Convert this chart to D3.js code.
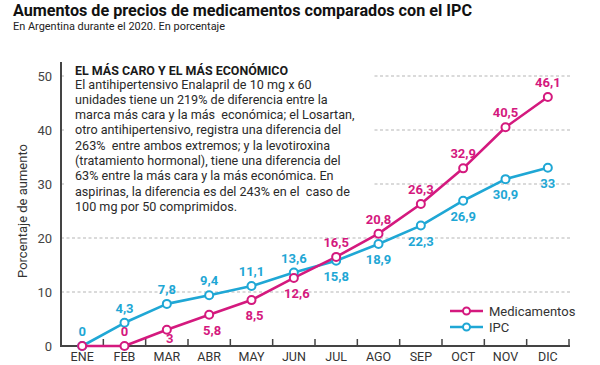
<!DOCTYPE html>
<html><head><meta charset="utf-8">
<script src="https://cdn.jsdelivr.net/npm/d3@7"></script>
<style>
body{margin:0;background:#fff;}
svg{display:block;}
text{font-family:Roboto,"Liberation Sans",sans-serif;}
</style></head>
<body><svg id="c" width="600" height="365"></svg>
<script>
const months = ["ENE","FEB","MAR","ABR","MAY","JUN","JUL","AGO","SEP","OCT","NOV","DIC"];
const medicamentos = [0,0,3,5.8,8.5,12.6,16.5,20.8,26.3,32.9,40.5,46.1];
const ipc = [0,4.3,7.8,9.4,11.1,13.6,15.8,18.9,22.3,26.9,30.9,33];
const yTicks = [0,10,20,30,40,50];
const seriesNames = ["Medicamentos","IPC"];
const title = "Aumentos de precios de medicamentos comparados con el IPC";
const subtitle = "En Argentina durante el 2020. En porcentaje";
const yTitle = "Porcentaje de aumento";
const noteTitle = "EL MÁS CARO Y EL MÁS ECONÓMICO";
const noteLines = [
 "El antihipertensivo Enalapril de 10 mg x 60",
 "unidades tiene un 219% de diferencia entre la",
 "marca más cara y la más  económica; el Losartan,",
 "otro antihipertensivo, registra una diferencia del",
 "263%  entre ambos extremos; y la levotiroxina",
 "(tratamiento hormonal), tiene una diferencia del",
 "63% entre la más cara y la más económica. En",
 "aspirinas, la diferencia es del 243% en el  caso de",
 "100 mg por 50 comprimidos."
];

const MAG = "#d4197e", CYAN = "#1fa7d5";
const fmt = v => String(v).replace(".", ",");
const svg = d3.select("#c");

const x = d3.scaleBand().domain(months).range([61, 569]);
const y = d3.scaleLinear().domain([0, 50]).range([346, 76]);

// title
svg.append("text").attr("x", 13).attr("y", 16).attr("font-size", 17).attr("font-weight", 700).attr("fill", "#111").text(title)
  .attr("textLength", 459).attr("lengthAdjust", "spacingAndGlyphs");
svg.append("text").attr("x", 13).attr("y", 30).attr("font-size", 11.5).attr("fill", "#222").text(subtitle)
  .attr("textLength", 212).attr("lengthAdjust", "spacingAndGlyphs");

// gridlines
svg.append("g").selectAll("line").data(yTicks.filter(d => d > 0)).join("line")
  .attr("x1", 61).attr("x2", 570).attr("y1", d => y(d)).attr("y2", d => y(d))
  .attr("stroke", "#b5b5b5").attr("stroke-width", 1).attr("stroke-dasharray", "3,2.5");

// note box background
svg.append("rect").attr("x", 64).attr("y", 62).attr("width", 308).attr("height", 156).attr("fill", "#fff");

// y axis
const ya = svg.append("g").attr("transform", "translate(61,0)")
  .call(d3.axisLeft(y).tickValues(yTicks).tickSize(0).tickPadding(9));
ya.select(".domain").remove();
ya.selectAll("text").attr("font-size", 13).attr("fill", "#444").attr("font-family", "Roboto,sans-serif");
svg.append("line").attr("x1", 61).attr("x2", 61).attr("y1", 62).attr("y2", 347).attr("stroke", "#444").attr("stroke-width", 2);

// x axis
const xa = svg.append("g").attr("transform", "translate(0,346)")
  .call(d3.axisBottom(x).tickSize(0).tickPadding(6));
xa.select(".domain").remove();
xa.selectAll("text").attr("font-size", 12.5).attr("fill", "#333").attr("font-family", "Roboto,sans-serif");
svg.append("line").attr("x1", 60).attr("x2", 570).attr("y1", 346).attr("y2", 346).attr("stroke", "#444").attr("stroke-width", 2);
const bounds = months.map(m => x(m)).slice(1).concat([x.range()[1]]);
svg.append("g").selectAll("line").data(bounds).join("line")
  .attr("x1", d => d).attr("x2", d => d).attr("y1", 346).attr("y2", 339)
  .attr("stroke", "#444").attr("stroke-width", 1.5);

// y title
svg.append("text").attr("transform", "translate(27,211) rotate(-90)").attr("text-anchor", "middle")
  .attr("font-size", 13).attr("fill", "#333").text(yTitle);

// note
svg.append("text").attr("x", 75).attr("y", 75).attr("font-size", 12.5).attr("font-weight", 700).attr("fill", "#1a1a1a")
  .text(noteTitle).attr("textLength", 213).attr("lengthAdjust", "spacingAndGlyphs");
const nt = svg.append("g").selectAll("text").data(noteLines).join("text")
  .attr("x", 75).attr("y", (d, i) => 88.5 + i * 15.3).attr("font-size", 12).attr("fill", "#2a2a2a")
  .style("white-space", "pre").text(d => d);
const w0 = nt.node().getComputedTextLength();
nt.attr("font-size", 12 * 237 / w0);

// lines
const cx = m => x(m) + x.bandwidth() / 2;
const line = d3.line().x((d, i) => cx(months[i])).y(d => y(d));
const series = [{name: seriesNames[0], vals: medicamentos, color: MAG}, {name: seriesNames[1], vals: ipc, color: CYAN}];
[series[1], series[0]].forEach(s => {
  svg.append("path").datum(s.vals).attr("d", line).attr("fill", "none").attr("stroke", s.color)
    .attr("stroke-width", 2.6).attr("stroke-linejoin", "round");
});
[series[1], series[0]].forEach(s => {
  svg.append("g").selectAll("circle").data(s.vals).join("circle")
    .attr("cx", (d, i) => cx(months[i])).attr("cy", d => y(d)).attr("r", 4)
    .attr("fill", "#fff").attr("stroke", s.color).attr("stroke-width", 2);
});

// value labels
series.forEach((s, si) => {
  const other = series[1 - si].vals;
  const pts = s.vals.map((v, i) => ({v, i, o: other[i]})).filter(p => !(si === 0 && p.i === 0));
  svg.append("g").selectAll("text").data(pts).join("text")
    .attr("x", p => cx(months[p.i]) + (si === 0 && p.v < p.o && p.v > 0 ? 3 : 0))
    .attr("y", p => {
      const above = p.v === 0 || (si === 0 ? p.v >= p.o : p.v > p.o);
      return above ? y(p.v) - 10 : Math.min(y(p.v) + 20, y(0) - 3);
    })
    .attr("text-anchor", "middle").attr("font-size", 13).attr("font-weight", 700).attr("fill", s.color)
    .text(p => fmt(p.v));
});

// legend
const lg = svg.append("g");
series.forEach((s, i) => {
  const ly = 311 + i * 16;
  lg.append("line").attr("x1", 450).attr("x2", 483).attr("y1", ly).attr("y2", ly).attr("stroke", s.color).attr("stroke-width", 2.6);
  lg.append("circle").attr("cx", 466.5).attr("cy", ly).attr("r", 3.5).attr("fill", "#fff").attr("stroke", s.color).attr("stroke-width", 2);
  lg.append("text").attr("x", 489).attr("y", ly + 4.5).attr("font-size", 13).attr("fill", "#333").text(s.name);
});
</script></body></html>
